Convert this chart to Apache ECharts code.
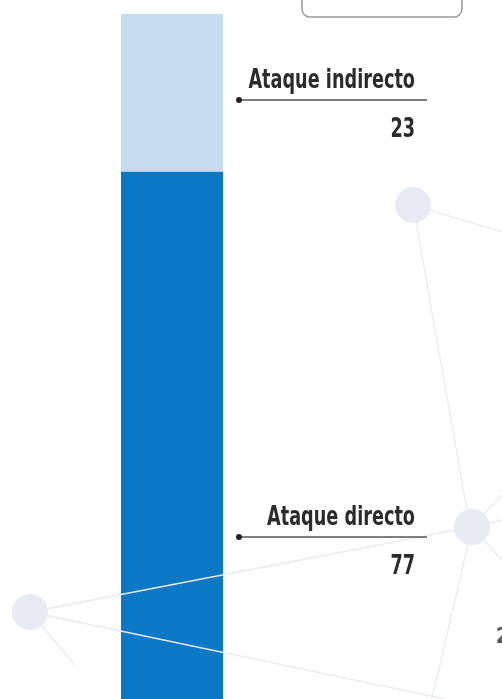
<!DOCTYPE html>
<html><head><meta charset="utf-8">
<script src="https://cdn.jsdelivr.net/npm/echarts@6/dist/echarts.min.js"></script>
<style>html,body{margin:0;padding:0;background:#fff}#c{width:502px;height:699px}</style>
</head><body><div id="c"></div>
<script>
const categories = ['Ataque'];
const seriesNames = ['Ataque directo', 'Ataque indirecto'];
const directValues = [77];
const indirectValues = [23];

const chart = echarts.init(document.getElementById('c'));
const FONT = "'DejaVu Sans', sans-serif";
const NET = '#e8ebf3';

function netLine(x1,y1,x2,y2){return {type:'line',shape:{x1,y1,x2,y2},style:{stroke:NET,lineWidth:1.3},z:10,silent:true};}
function netCircle(cx,cy){return {type:'circle',shape:{cx,cy,r:18},style:{fill:NET},z:11,silent:true};}
function condText(text, x, y){
  return {type:'text',x:x,y:y,scaleX:0.68,style:{text:text,x:0,y:0,align:'right',verticalAlign:'bottom',font:"bold 26px "+FONT,fill:'#2b2b2b'},z:20};
}
function labelBlock(name, value, lineY){
  return [
    condText(name, 415, lineY-6),
    {type:'line',shape:{x1:239,y1:lineY,x2:427,y2:lineY},style:{stroke:'#555',lineWidth:1.5},z:20},
    {type:'circle',shape:{cx:239,cy:lineY,r:3},style:{fill:'#222'},z:20},
    condText(String(value), 415, lineY+43)
  ];
}

const graphics = [
  {type:'rect',shape:{x:302,y:-20,width:160,height:37,r:8},style:{fill:'#fff',stroke:'#9a9a9a',lineWidth:1.5},z:20},
  netLine(413,205,502,232),
  netLine(413,205,470,527),
  netLine(472,527,502,495),
  netLine(472,527,502,520),
  netLine(472,527,502,560),
  netLine(472,527,432,699),
  netLine(30,612,472,527),
  netLine(30,612,445,699),
  netLine(30,612,75,665),
  netCircle(413,205), netCircle(472,527), netCircle(30,612),
  {type:'text',x:496,y:648,scaleX:0.8,style:{text:'2',x:0,y:0,align:'left',verticalAlign:'bottom',font:"bold 22px "+FONT,fill:'#555'},z:20}
].concat(labelBlock(seriesNames[1], indirectValues[0], 100), labelBlock(seriesNames[0], directValues[0], 537));

chart.setOption({
  animation:false,
  backgroundColor:'#fff',
  grid:{left:121,width:102,top:14,bottom:-2},
  xAxis:{type:'category',data:categories,show:false},
  yAxis:{type:'value',min:0,max:100,show:false},
  series:[
    {name:seriesNames[0],type:'bar',stack:'a',data:directValues,barWidth:'100%',itemStyle:{color:'#0a78c4'},z:2},
    {name:seriesNames[1],type:'bar',stack:'a',data:indirectValues,barWidth:'100%',itemStyle:{color:'#c6daf0'},z:2}
  ],
  graphic:graphics
});
</script></body></html>
